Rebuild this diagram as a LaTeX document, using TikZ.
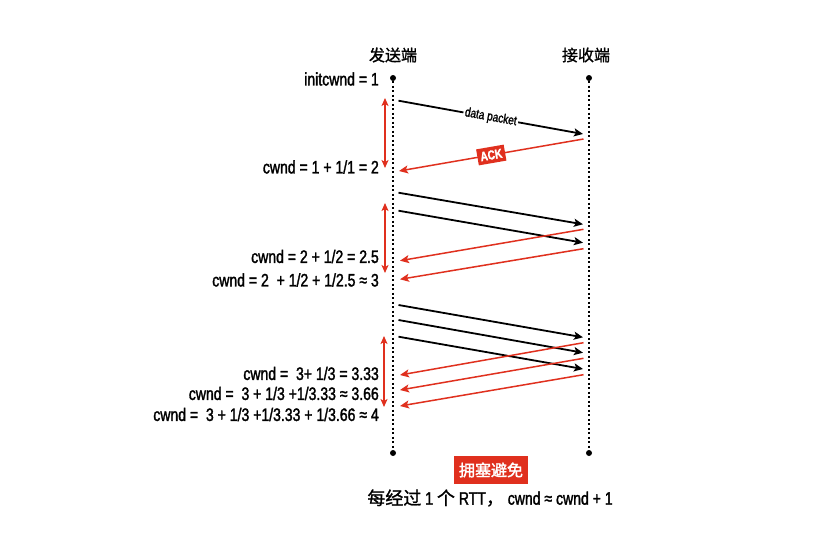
\documentclass[tikz,border=0pt]{standalone}
\usepackage{fontspec}
\setmainfont{Liberation Sans}[FakeStretch=0.78,FakeBold=1.6]
\newfontfamily\cjk{Noto Sans CJK SC}[FakeBold=1.2]
\newfontfamily\cjkb{Noto Sans CJK SC}[FakeBold=2]
\usetikzlibrary{arrows.meta}
\definecolor{myred}{HTML}{E0301E}
\begin{document}
\begin{tikzpicture}[x=1pt,y=-1pt,
  lbl/.style={anchor=east,inner sep=0pt,font=\fontsize{18}{20}\selectfont},
  hdr/.style={inner sep=0pt,font=\cjk\fontsize{16}{18}\selectfont},
  life/.style={line width=1.4pt,dash pattern=on 2pt off 2.5pt},
  dotn/.style={circle,fill=black,inner sep=0pt,minimum size=6pt},
  blk/.style={line width=1.8pt,-{Stealth[length=9pt,width=8pt,inset=2pt]}},
  rd/.style={myred,line width=1.5pt,-{Stealth[length=9pt,width=8pt,inset=2pt]}},
  dbl/.style={myred,line width=1.6pt,{Stealth[length=8pt,width=7pt,inset=2pt]}-{Stealth[length=8pt,width=7pt,inset=2pt]}}]
\useasboundingbox (0,0) rectangle (832,533);
\fill[white] (0,0) rectangle (832,533);
% headers
\node[hdr] (hs) at (393,55) {发送端};
\node[hdr] (hr) at (586,55) {接收端};
% lifelines
\node[dotn] (st) at (393,78) {};
\node[dotn] (sb) at (393,453) {};
\node[dotn] (rt) at (589,78) {};
\node[dotn] (rb) at (589,453) {};
\draw[life] (st) -- (sb);
\draw[life] (rt) -- (rb);
% labels
\node[lbl] (l0) at (379,79) {initcwnd = 1};
\node[lbl] (l1) at (379,167) {cwnd = 1 + 1/1 = 2};
\node[lbl] (l2) at (379,256.5) {cwnd = 2 + 1/2 = 2.5};
\node[lbl] (l3) at (379,280) {cwnd = 2 \ + 1/2 + 1/2.5 ≈ 3};
\node[lbl] (l4) at (379,373.5) {cwnd = \ 3+ 1/3 = 3.33};
\node[lbl] (l5) at (379,393.5) {cwnd = \ 3 + 1/3 +1/3.33 ≈ 3.66};
\node[lbl] (l6) at (379,414.5) {cwnd = \ 3 + 1/3 +1/3.33 + 1/3.66 ≈ 4};
% round 1
\coordinate (a1s) at (398.5,100.7);
\coordinate (a1e) at (583,134);
\coordinate (k1s) at (583.5,139);
\coordinate (k1e) at (399,171);
\draw[blk] (a1s) -- node[sloped,fill=white,inner sep=1.5pt,font=\fontsize{13}{14}\selectfont] (dp) {data packet} (a1e);
\draw[rd] (k1s) -- node[sloped,fill=myred,text=white,inner xsep=3pt,inner ysep=3.5pt,font=\bfseries\fontsize{13}{14}\selectfont] (ack) {ACK} (k1e);
\coordinate (d1t) at (385,98);
\coordinate (d1b) at (385,168);
\draw[dbl] (d1t) -- (d1b);
% round 2
\coordinate (b1s) at (398.5,192.7);
\coordinate (b1e) at (583,224.3);
\coordinate (b2s) at (398.5,210.7);
\coordinate (b2e) at (583,242.7);
\coordinate (r1s) at (583.5,229.3);
\coordinate (r1e) at (400,260.7);
\coordinate (r2s) at (583.5,248.7);
\coordinate (r2e) at (400,279.3);
\draw[blk] (b1s) -- (b1e);
\draw[blk] (b2s) -- (b2e);
\draw[rd] (r1s) -- (r1e);
\draw[rd] (r2s) -- (r2e);
\coordinate (d2t) at (385,203);
\coordinate (d2b) at (385,273);
\draw[dbl] (d2t) -- (d2b);
% round 3
\coordinate (c1s) at (398.5,305);
\coordinate (c1e) at (583,337.3);
\coordinate (c2s) at (398.5,320);
\coordinate (c2e) at (583,352.7);
\coordinate (c3s) at (398.5,336.7);
\coordinate (c3e) at (583,369);
\coordinate (q1s) at (583.5,342.7);
\coordinate (q1e) at (400,375);
\coordinate (q2s) at (583.5,358.3);
\coordinate (q2e) at (400,390);
\coordinate (q3s) at (583.5,374.7);
\coordinate (q3e) at (400,406);
\draw[blk] (c1s) -- (c1e);
\draw[blk] (c2s) -- (c2e);
\draw[blk] (c3s) -- (c3e);
\draw[rd] (q1s) -- (q1e);
\draw[rd] (q2s) -- (q2e);
\draw[rd] (q3s) -- (q3e);
\coordinate (d3t) at (384,336);
\coordinate (d3b) at (384,407);
\draw[dbl] (d3t) -- (d3b);
% bottom
\node[fill=myred,text=white,font=\cjkb\fontsize{16}{18}\selectfont,minimum width=74pt,minimum height=28pt,inner sep=0pt] (ca) at (491,470) {拥塞避免};
\node[inner sep=0pt,font=\fontsize{18}{20}\selectfont] (note) at (490,498) {{\cjk 每经过} 1 {\cjk 个} RTT{\cjk ，} cwnd ≈ cwnd + 1};
\end{tikzpicture}
\end{document}
